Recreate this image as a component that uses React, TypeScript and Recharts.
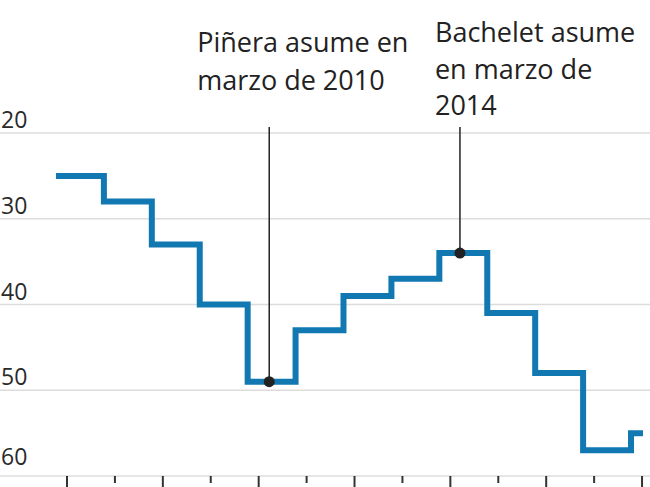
import React from "react";
import {
  CartesianGrid,
  Line,
  LineChart,
  ReferenceDot,
  ReferenceLine,
  XAxis,
  YAxis,
} from "recharts";

// fechas del cambio de puesto (año decimal) y puesto en el ranking
const fechas = [
  2005.77, 2006.77, 2007.77, 2008.77, 2009.77, 2010.77, 2011.77, 2012.77,
  2013.77, 2014.77, 2015.77, 2016.77, 2017.77, 2018.02,
];
const puestos = [25, 28, 33, 40, 49, 43, 39, 37, 34, 41, 48, 57, 55, 55];

const anios = [
  2006, 2007, 2008, 2009, 2010, 2011, 2012, 2013, 2014, 2015, 2016, 2017, 2018,
];
const ejeY = [20, 30, 40, 50, 60];

// anotaciones
const hitoFechas = [2010.22, 2014.2];
const hitoPuestos = [49, 34];
const hitoTextos = [
  ["Piñera asume en", "marzo de 2010"],
  ["Bachelet asume", "en marzo de", "2014"],
];

const data = fechas.map((fecha, i) => ({ fecha, puesto: puestos[i] }));

const FONT = "'Open Sans', sans-serif";
const TEXT = "#222";

// desplazamiento del texto respecto a la línea y posición de cada renglón
const labelLayout = [
  { dx: -72, baselines: [-75, -37] },
  { dx: -25, baselines: [-85, -48, -12] },
];

function YTick(props: any) {
  const { y, payload } = props;
  const off = payload.value === 60 ? -11 : -5;
  return (
    <text
      x={1}
      y={y + off}
      fill="#2a2a2a"
      fontSize={23}
      fontFamily={FONT}
      textAnchor="start"
    >
      {payload.value}
    </text>
  );
}

function XTick(props: any) {
  const { x, y, payload } = props;
  const len = payload.value % 2 === 0 ? 11 : 7;
  return <line x1={x} x2={x} y1={y} y2={y + len} stroke="#333" strokeWidth={2} />;
}

function makeLabel(idx: number) {
  return function HitoLabel(props: any) {
    const vb = props.viewBox || {};
    const { dx, baselines } = labelLayout[idx];
    return (
      <g>
        {hitoTextos[idx].map((t, i) => (
          <text
            key={i}
            x={vb.x + dx}
            y={vb.y + baselines[i]}
            fill={TEXT}
            fontSize={27}
            fontFamily={FONT}
          >
            {t}
          </text>
        ))}
      </g>
    );
  };
}

export default function App() {
  return (
    <div style={{ position: "absolute", left: 0, top: 0, background: "#fff" }}>
      <LineChart
        width={650}
        height={487}
        data={data}
        margin={{ top: 133, right: 0, bottom: 0, left: 0 }}
      >
        <CartesianGrid vertical={false} stroke="#dcdcdc" strokeWidth={1.5} />
        <XAxis
          dataKey="fecha"
          type="number"
          domain={[2004.602, 2018.166]}
          allowDataOverflow
          ticks={anios}
          interval={0}
          height={11}
          axisLine={false}
          tickLine={false}
          tickSize={0}
          tickMargin={0}
          tick={<XTick />}
        />
        <YAxis
          reversed
          domain={[20, 60]}
          ticks={ejeY}
          interval={0}
          width={30}
          mirror
          axisLine={false}
          tickLine={false}
          tick={<YTick />}
        />
        <Line
          type="stepAfter"
          dataKey="puesto"
          stroke="#1178b2"
          strokeWidth={6}
          dot={false}
          activeDot={false}
          isAnimationActive={false}
        />
        {hitoFechas.map((f, i) => (
          <ReferenceLine
            key={`l-${i}`}
            segment={[
              { x: f, y: 19.3 },
              { x: f, y: hitoPuestos[i] },
            ]}
            stroke="#222"
            strokeWidth={1.5}
            ifOverflow="visible"
            label={makeLabel(i)}
          />
        ))}
        {hitoFechas.map((f, i) => (
          <ReferenceDot
            key={`d-${i}`}
            x={f}
            y={hitoPuestos[i]}
            r={5.5}
            fill="#222"
            stroke="none"
            ifOverflow="visible"
          />
        ))}
      </LineChart>
    </div>
  );
}
